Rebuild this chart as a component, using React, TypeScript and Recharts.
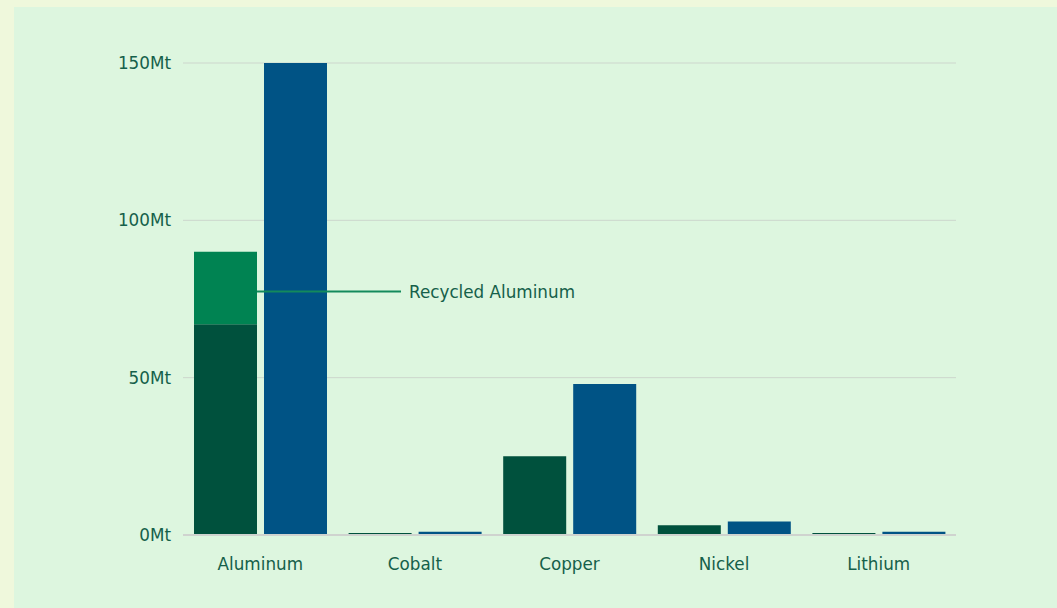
import React from 'react';
import { BarChart, Bar, XAxis, YAxis, CartesianGrid, LabelList } from 'recharts';

const categories = ['Aluminum', 'Cobalt', 'Copper', 'Nickel', 'Lithium'];
const primaryProduction = [67, 0.6, 25, 3.1, 0.6];
const recycledProduction = [23, 0, 0, 0, 0];
const demand = [150, 1.0, 48, 4.3, 1.0];
const yTicks = [0, 50, 100, 150];
const recycledLabel = 'Recycled Aluminum';

const data = categories.map((name, i) => ({
  name,
  primary: primaryProduction[i],
  recycled: recycledProduction[i],
  demand: demand[i],
}));

const TEXT = '#15604a';
const FONT = '"DejaVu Sans", sans-serif';
const FS = 16.8;

const RecycledCallout = (props: any) => {
  const { x, y, width, height, index } = props;
  if (index !== 0) return null;
  const cy = y + height * 0.55;
  const x0 = x + width;
  return (
    <g>
      <line x1={x0} y1={cy} x2={x0 + 144} y2={cy} stroke="#138a5c" strokeWidth={2} />
      <text x={x0 + 152} y={cy} dominantBaseline="central" fill={TEXT} fontSize={FS} fontFamily={FONT}>
        {recycledLabel}
      </text>
    </g>
  );
};

export default function App() {
  return (
    <div style={{ position: 'absolute', left: 0, top: 0, width: 1057, height: 608, background: '#eff8dc', overflow: 'hidden' }}>
      <div style={{ position: 'absolute', left: 14, top: 7, width: 1043, height: 601, background: '#ddf6df' }}>
        <BarChart
          width={1043}
          height={601}
          data={data}
          margin={{ top: 56, right: 101, bottom: 43, left: 0 }}
          barCategoryGap={11}
          barGap={7}
        >
          <CartesianGrid horizontal vertical={false} stroke="#cdd6cd" strokeWidth={1} />
          <XAxis
            dataKey="name"
            height={30}
            tickLine={false}
            tickSize={0}
            tickMargin={23}
            axisLine={{ stroke: '#cfd3cf', strokeWidth: 2 }}
            tick={{ fill: TEXT, fontSize: FS, fontFamily: FONT }}
          />
          <YAxis
            width={169}
            domain={[0, 150]}
            ticks={yTicks}
            tickLine={false}
            axisLine={false}
            tickSize={0}
            tickMargin={12}
            tickFormatter={(v: number) => `${v}Mt`}
            tick={{ fill: TEXT, fontSize: FS, fontFamily: FONT }}
          />
          <Bar dataKey="primary" stackId="prod" fill="#00513d" isAnimationActive={false} />
          <Bar dataKey="recycled" stackId="prod" fill="#008352" isAnimationActive={false}>
            <LabelList dataKey="recycled" content={<RecycledCallout />} />
          </Bar>
          <Bar dataKey="demand" fill="#005385" isAnimationActive={false} />
        </BarChart>
      </div>
    </div>
  );
}
